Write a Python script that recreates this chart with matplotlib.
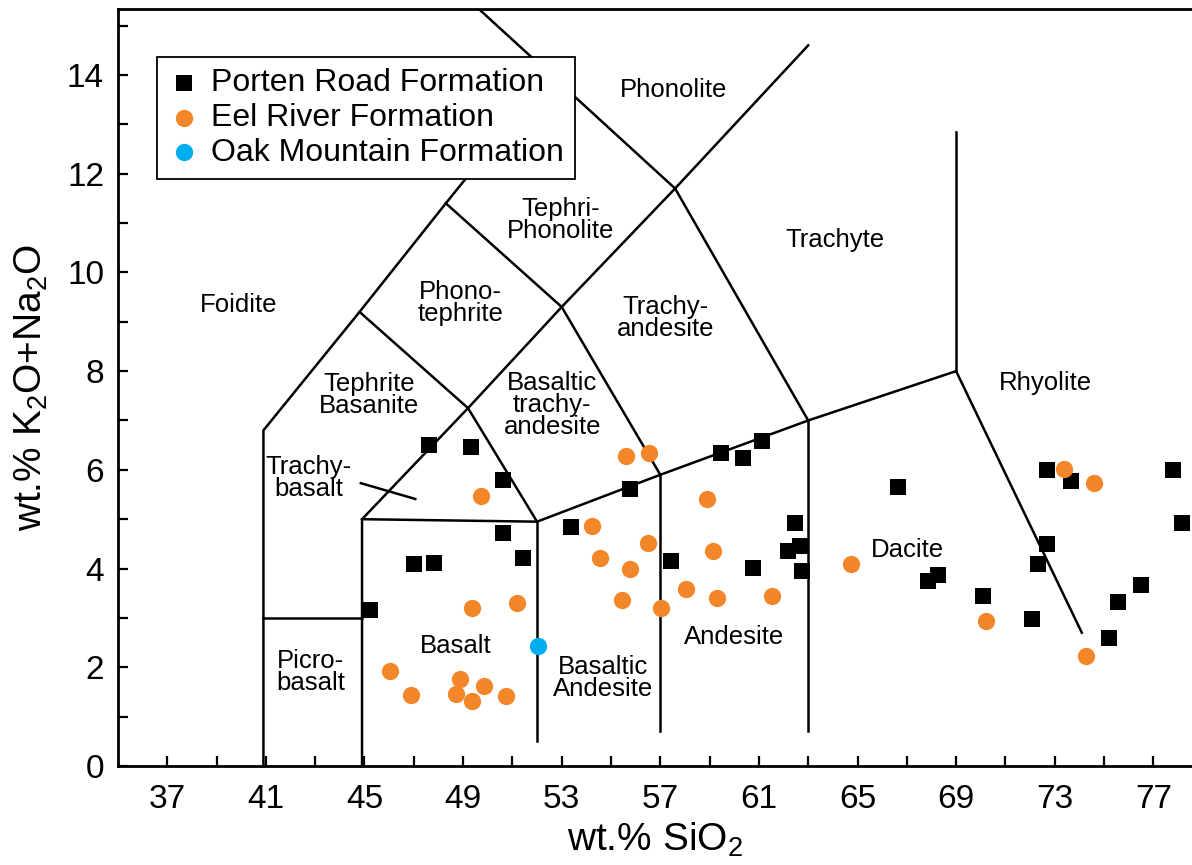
import matplotlib
matplotlib.use("Agg")
import matplotlib.pyplot as plt

plt.rcParams['font.family'] = ['Liberation Sans', 'DejaVu Sans']
plt.rcParams['mathtext.default'] = 'regular'

# sample data (SiO2, K2O+Na2O)
porten_sio2 = [45.24, 47.02, 47.83, 47.63, 49.33, 50.63, 50.63, 51.44, 53.39, 55.78,
               57.45, 59.47, 60.37, 61.14, 60.77, 62.48, 62.19, 62.68, 62.76, 66.65,
               67.87, 68.28, 70.10, 72.09, 72.33, 72.70, 72.70, 73.67, 75.21, 75.58,
               76.51, 77.81, 78.18]
porten_alk = [3.16, 4.09, 4.11, 6.50, 6.46, 5.79, 4.72, 4.21, 4.84, 5.61,
              4.15, 6.34, 6.24, 6.58, 4.01, 4.93, 4.36, 4.46, 3.95, 5.66,
              3.75, 3.87, 3.44, 2.98, 4.09, 4.50, 6.00, 5.77, 2.59, 3.32,
              3.67, 6.00, 4.93]

eel_sio2 = [49.71, 55.59, 56.54, 58.91, 54.21, 56.51, 54.54, 55.76, 59.14, 55.46,
            57.01, 58.03, 59.29, 61.54, 49.35, 51.17, 46.03, 46.89, 48.89, 48.71,
            49.37, 49.83, 50.76, 64.72, 70.22, 73.38, 74.59, 74.27]
eel_alk = [5.47, 6.29, 6.34, 5.40, 4.86, 4.52, 4.22, 4.00, 4.36, 3.36,
           3.21, 3.59, 3.40, 3.44, 3.20, 3.30, 1.92, 1.44, 1.76, 1.45,
           1.32, 1.63, 1.42, 4.10, 2.94, 6.01, 5.73, 2.23]

oak_sio2 = [52.02]
oak_alk = [2.43]

# TAS field boundaries (Le Bas et al., 1986)
boundaries = [
    [(40.9, 0), (40.9, 6.8), (44.8, 9.2), (48.3, 11.4), (52.5, 14)],
    [(40.9, 3), (44.9, 3)],
    [(44.9, 0), (44.9, 5), (52, 4.95), (57, 5.9), (63, 7), (69, 8), (74.1, 2.7)],
    [(44.9, 5), (49.2, 7.25), (53, 9.3), (57.6, 11.7), (63, 14.6)],
    [(52, 0.5), (52, 4.95)],
    [(57, 0.7), (57, 5.9)],
    [(63, 0.7), (63, 7)],
    [(44.8, 9.2), (49.2, 7.25), (52, 4.95)],
    [(48.3, 11.4), (53, 9.3), (57, 5.9)],
    [(57.6, 11.7), (63, 7)],
    [(69, 8), (69, 12.85)],
    [(57.6, 11.7), (49.5, 15.4)],
    [(44.85, 5.73), (47.06, 5.41)],
]

field_names = ['Phonolite', 'Tephri-\nPhonolite', 'Trachyte', 'Foidite', 'Phono-\ntephrite',
               'Trachy-\nandesite', 'Rhyolite', 'Tephrite\nBasanite',
               'Basaltic\ntrachy-\nandesite', 'Trachy-\nbasalt', 'Dacite', 'Andesite',
               'Basalt', 'Basaltic\nAndesite', 'Picro-\nbasalt']
field_x = [57.53, 52.94, 64.10, 39.88, 48.89, 57.20, 72.62, 45.19, 52.62, 42.72,
           67.02, 60.0, 48.68, 54.69, 42.80]
field_y = [13.70, 11.06, 10.66, 9.34, 9.38, 9.08, 7.76, 7.52, 7.31, 5.83,
           4.38, 2.61, 2.43, 1.78, 1.90]

fig = plt.figure(figsize=(11.92, 8.65), dpi=100)
ax = fig.add_axes([118 / 1192, 1 - 766 / 865, 1 - 118 / 1192, (766 - 9) / 865])

for seg in boundaries:
    xs, ys = zip(*seg)
    ax.plot(xs, ys, color='black', lw=1.8, solid_joinstyle='miter', zorder=2)

for name, fx, fy in zip(field_names, field_x, field_y):
    ax.text(fx, fy, name, fontsize=18.5, ha='center', va='center',
            linespacing=0.9, zorder=3)

ax.scatter(porten_sio2, porten_alk, marker='s', s=140, color='black', lw=0,
           label='Porten Road Formation', zorder=4)
ax.scatter(eel_sio2, eel_alk, marker='o', s=155, color='#f4862a', lw=0,
           label='Eel River Formation', zorder=4)
ax.scatter(oak_sio2, oak_alk, marker='o', s=155, color='#00aeef', lw=0,
           label='Oak Mountain Formation', zorder=4)

ax.set_xlim(35, 35 + 1074 / 24.65)
ax.set_ylim(0, 757 / 49.36)

ax.set_xticks(range(37, 79, 4))
ax.set_xticks(range(39, 79, 4), minor=True)
ax.set_yticks(range(0, 15, 2))
ax.set_yticks(range(1, 16, 2), minor=True)
ax.tick_params(which='both', direction='in', length=7, width=1.6,
               labelsize=24, top=False, right=False)
ax.tick_params(axis='x', pad=13)
ax.tick_params(axis='y', pad=10)

ax.spines['right'].set_visible(False)
for s in ['left', 'bottom', 'top']:
    ax.spines[s].set_linewidth(2)

ax.set_xlabel('wt.% SiO$_2$', fontsize=28, labelpad=4)
ax.set_ylabel('wt.% K$_2$O+Na$_2$O', fontsize=28, labelpad=12)

leg = ax.legend(loc='upper left', bbox_to_anchor=((157 - 118) / 1074, (766 - 57) / 757),
                borderaxespad=0, fontsize=23, frameon=True, fancybox=False,
                framealpha=1, handletextpad=0.35, handlelength=1.0,
                labelspacing=0.15, borderpad=0.35)
leg.get_frame().set_edgecolor('black')
leg.get_frame().set_linewidth(1.3)
leg.set_zorder(5)

fig.savefig('out.png', dpi=100)
